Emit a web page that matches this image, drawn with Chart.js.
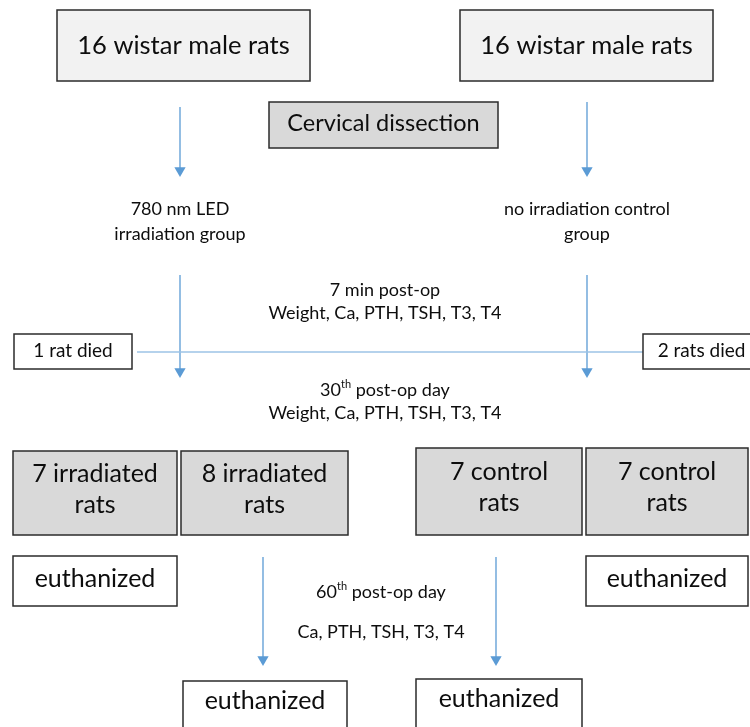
<!DOCTYPE html>
<html>
<head>
<meta charset="utf-8">
<script src="https://cdn.jsdelivr.net/npm/chart.js@4.4.1/dist/chart.umd.min.js"></script>
<style>
  html, body { margin: 0; padding: 0; background: #fff; }
  canvas { display: block; }
</style>
</head>
<body>
<canvas id="flow" width="750" height="727"></canvas>
<script>
// flowchart text
var startGroups = ['16 wistar male rats', '16 wistar male rats'];
var procedure = ['Cervical dissection'];
var groupNames = [['780 nm LED', 'irradiation group'], ['no irradiation control', 'group']];
var deaths = ['1 rat died', '2 rats died'];
var subGroups = [['7 irradiated', 'rats'], ['8 irradiated', 'rats'], ['7 control', 'rats'], ['7 control', 'rats']];
var outcomes = ['euthanized', 'euthanized', 'euthanized', 'euthanized'];
// checkpoints: [number, suffix, rest] and measured values
var checkpointTitles = [['7 min post-op'], ['30', 'th', ' post-op day'], ['60', 'th', ' post-op day']];
var checkpointMeasures = ['Weight, Ca, PTH, TSH, T3, T4', 'Weight, Ca, PTH, TSH, T3, T4', 'Ca, PTH, TSH, T3, T4'];

// layout (chart units = pixels, y down)
var FONT = 'Lato, "Open Sans", sans-serif';
var boxLayout = {
  start: [[57, 10, 310, 81], [460, 10, 713, 81]],
  procedure: [[269, 102, 498, 148]],
  deaths: [[14, 334, 132, 369], [643, 334, 760, 369]],
  sub: [[13, 451, 177, 535], [181, 451, 348, 535], [416, 448, 582, 535], [586, 448, 748, 535]],
  out: [[13, 556, 177, 606], [183, 681, 347, 740], [416, 679, 582, 740], [586, 556, 748, 606]]
};
var arrowLayout = [
  [180, 107, 177], [587, 102, 177],
  [180, 275, 378], [587, 275, 378],
  [263, 557, 666], [496, 557, 666]
];
var deathLine = [137, 643, 352];

var arrowColor = '#5b9bd5';
var lineColor = '#9dc3e6';
var textColor = '#0d0d0d';

var datasets = arrowLayout.map(function (a) {
  return {
    data: [{x: a[0], y: a[1]}, {x: a[0], y: a[2] - 6.5}],
    showLine: true,
    borderColor: arrowColor,
    borderWidth: 1.3,
    pointRadius: [0, 6.5],
    pointStyle: 'triangle',
    rotation: 180,
    pointBackgroundColor: arrowColor,
    pointBorderColor: arrowColor,
    pointBorderWidth: 0
  };
});
datasets.unshift({
  data: [{x: deathLine[0], y: deathLine[2]}, {x: deathLine[1], y: deathLine[2]}],
  showLine: true,
  borderColor: lineColor,
  borderWidth: 1.5,
  pointRadius: 0
});

function drawBox(ctx, xs, ys, b, fill) {
  var x1 = xs.getPixelForValue(b[0]), y1 = ys.getPixelForValue(b[1]);
  var x2 = xs.getPixelForValue(b[2]), y2 = ys.getPixelForValue(b[3]);
  ctx.fillStyle = fill;
  ctx.fillRect(x1, y1, x2 - x1, y2 - y1);
  ctx.strokeStyle = '#2b2b2b';
  ctx.lineWidth = 1.5;
  ctx.strokeRect(x1, y1, x2 - x1, y2 - y1);
  return [(x1 + x2) / 2, (y1 + y2) / 2 - 2];
}

function drawLines(ctx, lines, cx, cy, size, gap) {
  ctx.font = size + 'px ' + FONT;
  ctx.fillStyle = textColor;
  ctx.textAlign = 'center';
  ctx.textBaseline = 'middle';
  var top = cy - (lines.length - 1) * gap / 2;
  lines.forEach(function (t, i) { ctx.fillText(t, cx, top + i * gap); });
}

function drawSup(ctx, parts, cx, cy, size) {
  ctx.textBaseline = 'middle';
  ctx.textAlign = 'left';
  ctx.fillStyle = textColor;
  if (parts.length === 1) {
    ctx.font = size + 'px ' + FONT;
    ctx.textAlign = 'center';
    ctx.fillText(parts[0], cx, cy);
    return;
  }
  var small = Math.round(size * 0.62);
  ctx.font = size + 'px ' + FONT;
  var w0 = ctx.measureText(parts[0]).width, w2 = ctx.measureText(parts[2]).width;
  ctx.font = small + 'px ' + FONT;
  var w1 = ctx.measureText(parts[1]).width;
  var x = cx - (w0 + w1 + w2) / 2;
  ctx.font = size + 'px ' + FONT;
  ctx.fillText(parts[0], x, cy);
  ctx.font = small + 'px ' + FONT;
  ctx.fillText(parts[1], x + w0, cy - size * 0.3);
  ctx.font = size + 'px ' + FONT;
  ctx.fillText(parts[2], x + w0 + w1, cy);
}

var flowPlugin = {
  id: 'flow',
  afterDatasetsDraw: function (chart) {
    var ctx = chart.ctx, xs = chart.scales.x, ys = chart.scales.y;
    ctx.save();
    startGroups.forEach(function (t, i) {
      var c = drawBox(ctx, xs, ys, boxLayout.start[i], '#f2f2f2');
      drawLines(ctx, [t], c[0], c[1] + 2, 25.5, 0);
    });
    procedure.forEach(function (t, i) {
      var c = drawBox(ctx, xs, ys, boxLayout.procedure[i], '#d9d9d9');
      drawLines(ctx, [t], c[0], c[1], 23.5, 0);
    });
    deaths.forEach(function (t, i) {
      var c = drawBox(ctx, xs, ys, boxLayout.deaths[i], '#ffffff');
      drawLines(ctx, [t], c[0], c[1] + 1, 19, 0);
    });
    subGroups.forEach(function (t, i) {
      var c = drawBox(ctx, xs, ys, boxLayout.sub[i], '#d9d9d9');
      drawLines(ctx, t, c[0], c[1] - 2, 25, 31);
    });
    outcomes.forEach(function (t, i) {
      var b = boxLayout.out[i];
      var c = drawBox(ctx, xs, ys, b, '#ffffff');
      var cy = b[3] > 727 ? ys.getPixelForValue(b[1] + 20) : c[1];
      drawLines(ctx, [t], c[0], cy, 25, 0);
    });
    // group labels
    var gx = [arrowLayout[0][0], arrowLayout[1][0]];
    groupNames.forEach(function (t, i) {
      drawLines(ctx, t, xs.getPixelForValue(gx[i]), ys.getPixelForValue(222), 18, 25);
    });
    // checkpoints
    var cpX = [385, 385, 381];
    var cpY = [[290, 313], [390, 413], [592, 632]];
    checkpointTitles.forEach(function (p, i) {
      drawSup(ctx, p, xs.getPixelForValue(cpX[i]), ys.getPixelForValue(cpY[i][0]), 18);
      drawLines(ctx, [checkpointMeasures[i]], xs.getPixelForValue(cpX[i]), ys.getPixelForValue(cpY[i][1]), 18, 0);
    });
    ctx.restore();
  }
};

new Chart(document.getElementById('flow').getContext('2d'), {
  type: 'scatter',
  data: { datasets: datasets },
  options: {
    responsive: false,
    animation: false,
    layout: { padding: 0, autoPadding: false },
    plugins: { legend: { display: false }, tooltip: { enabled: false } },
    scales: {
      x: { type: 'linear', min: 0, max: 750, display: false },
      y: { type: 'linear', min: 0, max: 727, reverse: true, display: false }
    }
  },
  plugins: [flowPlugin]
});
</script>
</body>
</html>
